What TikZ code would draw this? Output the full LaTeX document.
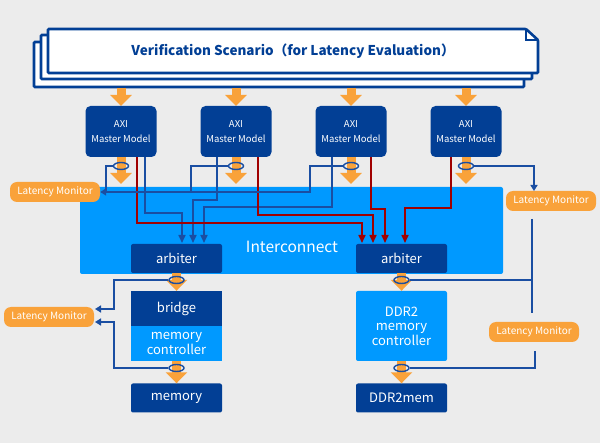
\documentclass[tikz,border=0pt]{standalone}
\usepackage{fontspec}
\setmainfont{Noto Sans CJK JP}
\usetikzlibrary{arrows.meta,shapes.geometric,positioning,calc}
\definecolor{bg}{HTML}{ECECEC}
\definecolor{dkblue}{HTML}{023F95}
\definecolor{ltblue}{HTML}{0099FF}
\definecolor{orng}{HTML}{F9A23A}
\definecolor{tapblue}{HTML}{1A4EA2}
\definecolor{dkred}{HTML}{A00000}

\begin{document}
\begin{tikzpicture}[x=1pt, y=-1pt,
    page/.style={draw=dkblue, fill=white, line width=2.6pt, rounded corners=1pt},
    master/.style={fill=dkblue, text=white, rounded corners=5pt, minimum width=71pt, minimum height=51pt, inner sep=0pt, align=center, font=\fontsize{9.5}{14.5}\selectfont},
    dkbox/.style={fill=dkblue, text=white, rounded corners=2pt, minimum width=91pt, inner sep=0pt, align=center, font=\fontsize{13}{14.5}\selectfont},
    ltbox/.style={dkbox, fill=ltblue},
    lmon/.style={fill=orng, text=white, rounded corners=7pt, minimum width=90pt, minimum height=20pt, inner sep=0pt, font=\fontsize{10}{11}\selectfont},
    flow/.style={orng, line width=9pt, -{Triangle[width=21pt,length=11pt]}},
    loopring/.style={ellipse, draw=tapblue, line width=1.4pt, minimum width=15pt, minimum height=7pt, inner sep=0pt},
    tap/.style={tapblue, line width=1.6pt},
    tiparrow/.style={-{Triangle[width=7pt,length=6pt]}},
    data/.style={line width=1.6pt, -{Triangle[width=7pt,length=8pt]}}
]
    \fill[bg] (0,0) rectangle (600,443);
    \useasboundingbox (0,0) rectangle (600,443);

    % scenario sheets
    \draw[page] (34,42) rectangle (524,87);
    \draw[page] (41,35) rectangle (532,79);
    \draw[page] (48,29) -- (526,29) -- (538,40) -- (538,73) -- (48,73) -- cycle;
    \draw[dkblue, line width=1.2pt] (526,29) -- (526,40) -- (538,40);
    \node[text=dkblue, font=\bfseries\fontsize{13.5}{14}\selectfont] (scen) at (293,51) {Verification Scenario（for Latency Evaluation）};

    % interconnect
    \fill[ltblue, rounded corners=2pt] (80,187) rectangle (503,274);
    \node[text=white, font=\fontsize{15.5}{16}\selectfont] (ic) at (292,247) {Interconnect};
    \node[dkbox, minimum height=29pt] (arbL) at (176.5,258.5) {arbiter};
    \node[dkbox, minimum height=29pt] (arbR) at (401.5,258.5) {arbiter};

    \node[dkbox, minimum height=35pt, rounded corners=0pt] (bridge) at (176.5,308.5) {bridge};
    \node[ltbox, minimum height=35pt, rounded corners=0pt] (mcL) at (176.5,343.5) {memory\\controller};
    \node[ltbox, minimum height=70pt] (mcR) at (401.5,326) {DDR2\\memory\\controller};
    \node[dkbox, minimum height=29pt] (mem) at (176.5,398) {memory};
    \node[dkbox, minimum height=29pt] (ddrmem) at (401.5,398) {DDR2mem};

    % masters
    \foreach \i/\x in {1/121,2/236,3/351,4/466} {
        \draw[flow] (\x,88) -- (\x,106);
        \node[master] (m\i) at (\x,131.5) {AXI\\Master Model};
    }

    % data paths
    \draw[data, tapblue] ([xshift=24pt]m1.south) |- (182,213) -- (182,243);
    \draw[data, tapblue] ([xshift=-19pt]m2.south) |- (193,200) -- (193,243);
    \draw[data, tapblue] ([xshift=-19pt]m3.south) |- (204,207) -- (204,243);
    \draw[data, dkred] ([xshift=16pt]m1.south) |- (362,223) -- (362,243);
    \draw[data, dkred] ([xshift=22pt]m2.south) |- (373,215) -- (373,243);
    \draw[data, dkred] ([xshift=20pt]m3.south) |- (385,209) -- (385,243);
    \draw[data, dkred] ([xshift=-15pt]m4.south) |- (405,208) -- (405,243);

    \foreach \i/\x in {1/121,2/236,3/351,4/466} {
        \draw[flow] (m\i.south) -- (\x,184);
        \node[loopring] (r\i) at (\x,166) {};
    }
    \draw[flow] (arbL.south) -- (bridge.north);
    \draw[flow] (arbR.south) -- (mcR.north);
    \draw[flow] (mcL.south) -- (mem.north);
    \draw[flow] (mcR.south) -- (ddrmem.north);
    \node[loopring] (rL1) at (176.5,280) {};
    \node[loopring] (rL2) at (176.5,368) {};
    \node[loopring] (rR1) at (401.5,280) {};
    \node[loopring] (rR2) at (401.5,368) {};

    % latency monitors
    \node[lmon] (lm1) at (55,192) {Latency Monitor};
    \node[lmon] (lm2) at (551,201) {Latency Monitor};
    \node[lmon] (lm3) at (49,317) {Latency Monitor};
    \node[lmon] (lm4) at (534,332) {Latency Monitor};

    \draw[tap, tiparrow] (r3.west) -| (310,192) -- (lm1.east);
    \draw[tap] (r2.west) -| (191,192);
    \draw[tap] (r1.west) -| (106,192);
    \draw[tap, tiparrow] (r4.east) -| (534,191);
    \draw[tap] (532,219) -- (532,313);
    \draw[tap] (rR1.east) -- (532,280);
    \draw[tap] (rR2.east) -| (535,351);
    \draw[tap, tiparrow] (rL1.west) -| (114,309) -- (95,309);
    \draw[tap, tiparrow] (rL2.west) -| (114,322) -- (95,322);
\end{tikzpicture}
\end{document}
